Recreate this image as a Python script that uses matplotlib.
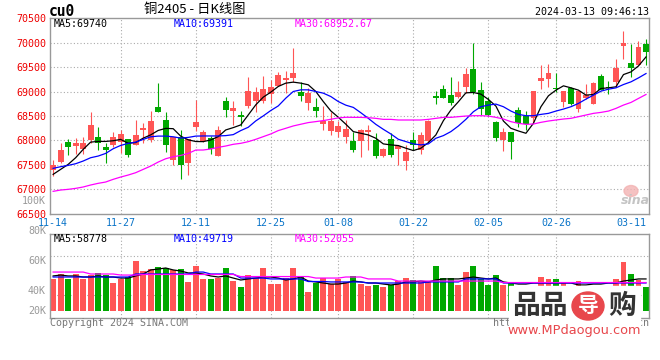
import matplotlib
matplotlib.use('Agg')
import matplotlib.pyplot as plt
from matplotlib.patches import Rectangle, Ellipse
import numpy as np

# daily candles, 2023-11-14 .. 2024-03-13 (cu0)
opens = [67390, 67554, 67957, 67882, 67827, 68004, 68059, 67854, 67895, 67963,
         68018, 67895, 68209, 68004, 68673, 68407, 67595, 68059, 67534, 68263,
         67993, 68055, 67678, 68808, 68609, 68514, 68707, 68808, 68808, 68952,
         69116, 69226, 69267, 69000, 68760, 68685, 68343, 68199, 68178, 68076,
         67987, 67994, 68164, 68008, 67681, 68028, 67817, 67566, 68008, 67804,
         67994, 68905, 69048, 68926, 68892, 69096, 69456, 69028, 68803, 68368,
         68011, 68160, 68620, 68504, 68463, 69218, 69259, 69075, 68790, 69075,
         68633, 68871, 68742, 69320, 69096, 69198, 69932, 69578, 69538, 69966]
closes = [67500, 67800, 67861, 67936, 67936, 68304, 67950, 67800, 68059, 68120,
          67690, 68100, 68250, 68393, 68577, 67902, 68066, 67486, 68018, 68373,
          68170, 67815, 68212, 68623, 68664, 68487, 69014, 69000, 69055, 69096,
          69342, 69281, 69370, 68918, 68979, 68610, 68397, 68397, 68294, 68240,
          67804, 68212, 68212, 67688, 67824, 67702, 67885, 67770, 67906, 68110,
          68402, 68871, 68871, 68769, 68994, 69361, 68994, 68633, 68518, 68055,
          68160, 67956, 68348, 68334, 69007, 69279, 69374, 69041, 69007, 68735,
          69007, 68932, 69170, 69034, 69068, 69490, 70000, 69490, 69905, 69803]
highs = [67595, 67950, 68018, 68038, 68072, 68577, 68263, 67950, 68168, 68216,
         68032, 68407, 68345, 68598, 69164, 68570, 68066, 68202, 68018, 68836,
         68212, 68089, 68294, 68890, 68808, 68603, 69288, 69089, 69308, 69240,
         69397, 69425, 69897, 69185, 69062, 68877, 68706, 68582, 68404, 68418,
         68178, 68232, 68314, 68144, 67838, 68144, 67906, 67906, 68164, 68164,
         68416, 69007, 69130, 69293, 69218, 69483, 70000, 69191, 68892, 68402,
         68246, 68160, 68681, 68599, 69007, 69538, 69558, 69374, 69007, 69089,
         69007, 69150, 69198, 69354, 69211, 69674, 70238, 69966, 70034, 70068]
lows = [67268, 67540, 67690, 67711, 67725, 67936, 67800, 67540, 67868, 67731,
        67656, 67895, 67950, 67963, 68577, 67759, 67486, 67200, 67281, 68188,
        67973, 67719, 67678, 68473, 68308, 68295, 68665, 68590, 68774, 68774,
        69103, 68966, 69199, 68815, 68623, 68487, 68212, 68110, 68076, 67938,
        67770, 67668, 67804, 67634, 67668, 67668, 67484, 67382, 67804, 67715,
        67974, 68742, 68858, 68722, 68858, 68960, 68946, 68518, 68497, 67987,
        67786, 67620, 68280, 68212, 68361, 69048, 69089, 68994, 68688, 68722,
        68572, 68844, 68742, 69028, 68939, 69096, 69674, 69300, 69538, 69551]

ma5 = [67302, 67404, 67506, 67643, 67813, 67963, 67977, 67977, 67991, 68018,
       67940, 67954, 68044, 68111, 68202, 68244, 68238, 68085, 68010, 67975,
       67973, 68007, 68075, 68212, 68260, 68315, 68520, 68726, 68884, 68986,
       69103, 69171, 69192, 69171, 69137, 69000, 68794, 68603, 68472, 68330,
       68178, 68144, 68110, 68042, 67926, 67906, 67892, 67838, 67790, 67838,
       67953, 68110, 68402, 68620, 68790, 68973, 68980, 68946, 68837, 68701,
       68395, 68246, 68191, 68144, 68348, 68688, 68912, 69028, 69116, 69075,
       69028, 68926, 68939, 69062, 69075, 69096, 69347, 69402, 69524, 69708]
ma10 = [67425, 67459, 67486, 67520, 67575, 67643, 67677, 67731, 67827, 67895,
        67936, 67963, 68018, 68072, 68086, 68086, 68072, 68045, 68059, 68086,
        68089, 68089, 68089, 68096, 68116, 68199, 68267, 68397, 68500, 68610,
        68705, 68863, 69000, 69034, 69034, 69000, 68966, 68897, 68794, 68720,
        68674, 68565, 68450, 68327, 68225, 68130, 68021, 67974, 67926, 67906,
        67926, 68042, 68096, 68178, 68293, 68429, 68586, 68688, 68722, 68742,
        68688, 68599, 68531, 68504, 68504, 68531, 68552, 68599, 68640, 68688,
        68756, 68844, 68926, 69007, 69048, 69075, 69143, 69198, 69279, 69368]
ma30 = [66954, 66981, 66995, 67015, 67043, 67084, 67118, 67145, 67200, 67247,
        67288, 67336, 67404, 67472, 67554, 67622, 67663, 67690, 67731, 67800,
        67801, 67822, 67856, 67883, 67918, 67938, 67972, 68020, 68075, 68130,
        68199, 68246, 68294, 68329, 68363, 68383, 68404, 68431, 68459, 68472,
        68470, 68470, 68463, 68450, 68429, 68429, 68416, 68416, 68416, 68416,
        68429, 68450, 68470, 68470, 68484, 68497, 68504, 68504, 68497, 68470,
        68436, 68382, 68348, 68327, 68334, 68368, 68395, 68416, 68436, 68450,
        68484, 68518, 68552, 68572, 68599, 68654, 68722, 68776, 68858, 68939]

vols = [47700, 51000, 47700, 51000, 47700, 50300, 51700, 50300, 45000, 47700,
        49000, 59700, 53000, 54300, 55700, 55000, 53700, 54300, 45700, 56300,
        47700, 47700, 48300, 55000, 46300, 42300, 50300, 48300, 55000, 44300,
        44300, 48300, 55000, 49000, 39000, 45000, 48300, 44300, 47700, 45700,
        49700, 44300, 43000, 43700, 42300, 43700, 46300, 48300, 47000, 45700,
        45700, 56300, 48300, 48300, 43700, 52300, 56300, 47700, 43700, 50300,
        43700, 45700, 41500, 42000, 42500, 49000, 47700, 47700, 45700, 42000,
        46300, 41500, 42500, 42000, 41000, 47700, 59000, 51000, 47000, 42300]
vol_ma5 = [49700, 50300, 49700, 49700, 49000, 49000, 49700, 49000, 49000, 48300,
           48300, 49700, 51000, 53700, 54300, 55000, 53700, 53000, 51700, 51700,
           51000, 49700, 49000, 49700, 48300, 47000, 47700, 48300, 49000, 49000,
           48300, 47000, 47700, 49000, 46300, 45700, 45000, 44300, 44300, 45000,
           46300, 45700, 45000, 45000, 44300, 43700, 44300, 45700, 45700, 46300,
           45700, 47000, 47700, 47700, 47700, 48300, 49000, 48300, 47700, 48300,
           45700, 45000, 44300, 44300, 45000, 45000, 45000, 45000, 45000, 45000,
           43700, 43700, 44300, 44300, 45000, 45000, 46300, 47000, 47700, 47700]
vol_ma10 = [49000, 49000, 49000, 49000, 49000, 49000, 49000, 49000, 49000, 49000,
            49000, 51000, 51000, 51000, 51000, 51000, 51000, 51000, 51000, 52300,
            52300, 51000, 51000, 51000, 51000, 48300, 48300, 48300, 48300, 47700,
            47700, 47700, 47700, 47700, 46000, 46000, 46000, 45700, 45700, 45700,
            45700, 45700, 45000, 45000, 45000, 45000, 45000, 45000, 45000, 45000,
            45700, 45700, 45700, 45700, 45700, 47700, 47700, 47700, 47700, 47700,
            45000, 45000, 45000, 45000, 45000, 45000, 45000, 45000, 45000, 45000,
            45000, 45000, 45000, 45000, 45000, 45000, 45000, 45000, 45000, 45000]
vol_ma30 = [52300, 52300, 52300, 52300, 52300, 51000, 51000, 51000, 51000, 50300,
            50300, 50300, 50700, 50700, 50700, 50700, 50700, 50700, 50700, 50700,
            50700, 50700, 50700, 50700, 50700, 49300, 49300, 49300, 49300, 49300,
            49300, 49300, 49300, 49300, 49300, 48300, 48300, 48300, 48300, 49000,
            49000, 49000, 47700, 47700, 47700, 47700, 46300, 46300, 46300, 46300,
            46300, 46300, 46300, 46300, 46300, 46300, 46300, 46300, 46300, 46300,
            45300, 45300, 45300, 45300, 45300, 45300, 45300, 45300, 45300, 45300,
            45300, 45300, 45300, 45300, 45300, 45300, 45300, 45300, 45300, 45300]

date_labels = ['11-14', '11-27', '12-11', '12-25', '01-08', '01-22', '02-05', '02-26', '03-11']
date_idx = [0, 9, 19, 29, 38, 48, 58, 67, 77]
price_ticks = [70500, 70000, 69500, 69000, 68500, 68000, 67500, 67000, 66500]
vol_label_vals = [100000, 80000, 60000, 40000, 26300]
vol_label_text = ['100K', '80K', '60K', '40K', '20K']
vol_grid = [63000, 37000]

title = '铜2405 - 日K线图'
stamp = '2024-03-13 09:46:13'
price_ma_text = ['MA5:69740', 'MA10:69391', 'MA30:68952.67']
vol_ma_text = ['MA5:58778', 'MA10:49719', 'MA30:52055']

RED = '#ff5555'
GREEN = '#00a800'
MA_COLORS = ['black', '#0000ff', '#ff00ff']
GRID = dict(color='#aaaaaa', lw=0.8, ls=(0, (1, 2)))
MONO = 'DejaVu Sans Mono'

W, H = 660, 360
fig = plt.figure(figsize=(W / 100, H / 100), dpi=100)


def rect(l, t, r, b):
    return [l / W, 1 - b / H, (r - l) / W, (b - t) / H]


def fx(x):
    return x / W


def fy(y):
    return 1 - y / H


ax = fig.add_axes(rect(50.5, 18.3, 649, 213.5))
axv = fig.add_axes(rect(50.5, 234.3, 649, 318.3))

x = np.arange(len(closes))
o = np.array(opens)
c = np.array(closes)
cols = np.where(c >= o, RED, GREEN)

# price panel
for yv in price_ticks[1:-1]:
    ax.axhline(yv, **GRID, zorder=0)
for i in date_idx[1:-1]:
    ax.axvline(i, **GRID, zorder=0)
    axv.axvline(i, **GRID, zorder=0)
for yv in vol_grid:
    axv.axhline(yv, **GRID, zorder=0)

ax.vlines(x, lows, highs, colors=cols, lw=0.8, zorder=2)
ax.bar(x, np.maximum(np.abs(c - o), 18), bottom=np.minimum(o, c), width=0.78,
       color=cols, lw=0, zorder=3)
for series, col in zip([ma5, ma10, ma30], MA_COLORS):
    ax.plot(x, series, color=col, lw=0.9, zorder=4)

ax.set_xlim(-0.35, 79.4)
ax.set_ylim(66500, 70500)
ax.set_yticks(price_ticks)
ax.set_yticklabels([str(t) for t in price_ticks], color='#ee0000', family=MONO, fontsize=7.2)
ax.set_xticks(date_idx)
ax.set_xticklabels(date_labels, color='#0a74c8', family=MONO, fontsize=7.2)
ax.tick_params(length=0, pad=3)

# volume panel
vol_base = vol_label_vals[-1]
axv.bar(x, np.array(vols) - vol_base, bottom=vol_base, width=0.78, color=cols, lw=0, zorder=2)
for series, col in zip([vol_ma5, vol_ma10, vol_ma30], MA_COLORS):
    axv.plot(x, series, color=col, lw=0.9, zorder=4)
axv.set_xlim(-0.35, 79.4)
axv.set_ylim(21467, 77467)
axv.set_xticks([])
axv.set_yticks([])
for v, t in zip(vol_label_vals, vol_label_text):
    axv.text(-0.0075, v, t, transform=axv.get_yaxis_transform(), ha='right', va='center',
             color='#999999', family=MONO, fontsize=7.2, clip_on=False)

for a in (ax, axv):
    for s in a.spines.values():
        s.set_color('#999999')
        s.set_linewidth(1.0)

# MA captions
for a_y, texts in ((23.7, price_ma_text), (238.7, vol_ma_text)):
    for xp, t, col in zip([54, 174, 294.7], texts, MA_COLORS):
        fig.text(fx(xp), fy(a_y), t, color=col, family=MONO, fontsize=7.2, va='center')

# header
fig.text(fx(49), fy(11.5), 'cu0', family=MONO, fontweight='bold', fontsize=10.5, va='center')
fig.text(fx(195), fy(10), title, family=['Noto Sans CJK SC', 'DejaVu Sans'], fontsize=9.5,
         ha='center', va='center')
fig.text(fx(649), fy(11.7), stamp, family=MONO, fontsize=7.2, ha='right', va='center')

# footer (the site link sits under the watermark box, as in the source)
fig.text(fx(50), fy(323), 'Copyright 2024 SINA.COM', family=MONO, fontsize=7.2,
         color='#777777', va='center')
fig.text(fx(649), fy(323), 'http://finance.sina.com.cn', family=MONO, fontsize=7.2,
         color='#777777', ha='right', va='center')

# sina mark
fig.patches.append(Ellipse((fx(631), fy(191)), 14 / W, 11 / H, transform=fig.transFigure,
                           color='#f3b3b3', alpha=0.8))
fig.text(fx(635), fy(201), 'sina', family='DejaVu Sans', fontstyle='italic', fontweight='bold',
         fontsize=9, color='#c4c4c4', ha='center', va='center')

# site watermark
fig.patches.append(Rectangle((fx(509), fy(337)), 131 / W, 51 / H, transform=fig.transFigure,
                             color='white', zorder=5))
wm = dict(family=['Noto Sans CJK SC', 'DejaVu Sans'], fontweight='bold', va='center', zorder=6)
fig.text(fx(512), fy(306), '品品', color='#333333', fontsize=20, **wm)
fig.patches.append(Ellipse((fx(588), fy(306)), 32 / W, 28 / H, transform=fig.transFigure,
                           color='#e8474c', zorder=6))
fig.text(fx(588), fy(306), '导', color='white', fontsize=15, ha='center', **wm)
fig.text(fx(622), fy(306), '购', color='#333333', fontsize=20, ha='center', **wm)
fig.text(fx(574), fy(330.5), 'www.MPdaogou.com', color='#e8474c', fontsize=9.3,
         family='DejaVu Sans', ha='center', va='center', zorder=6)

fig.savefig('out.png', dpi=100)
